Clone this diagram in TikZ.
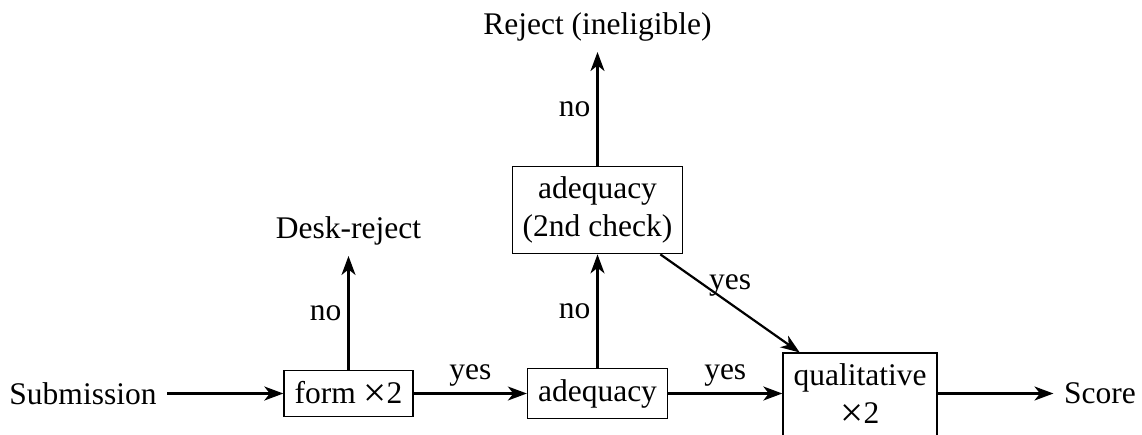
\documentclass[tikz,border=0pt]{standalone}
\usepackage{graphicx}
\usepackage{fontspec}
\setmainfont{Liberation Serif}
\usetikzlibrary{arrows.meta}
\newcommand\bigtimes{\raisebox{-3pt}{\scalebox{1.3}{×}}}
\tikzset{
  every node/.style={font=\fontsize{31.5}{37.8}\selectfont, inner sep=10.5pt},
  procbox/.style={draw, line width=1.4pt, align=center},
  txt/.style={align=center},
  flow/.style={-{Stealth[length=19pt,width=14pt,inset=5.5pt]}, line width=2.2pt},
  lbl/.style={inner sep=6pt}
}
\begin{document}
\begin{tikzpicture}[x=1pt,y=-1pt]
\useasboundingbox (0,0) rectangle (1142,434);
\node[txt] (sub) at (83,393.5) {Submission};
\node[procbox] (form) at (348.5,393.5) {form \bigtimes2};
\node[procbox] (adeq) at (597.5,393.5) {adequacy};
\node[procbox] (adeqb) at (597.5,210) {adequacy\\(2nd check)};
\node[procbox] (qual) at (860,395) {qualitative\\\bigtimes2};
\node[txt] (score) at (1100,393.5) {Score};
\node[txt] (desk) at (348.5,231) {Desk-reject};
\node[txt] (rej) at (597.5,27) {Reject (ineligible)};

\draw[flow] (sub) -- (form);
\draw[flow] (form) -- node[above,lbl] (y1) {yes} (adeq);
\draw[flow] (adeq) -- node[above,lbl] (y2) {yes} (qual.west |- adeq);
\draw[flow] (qual.east |- adeq) -- (score);
\draw[flow] (form.north) -- node[left,lbl] (n1) {no} (desk.south);
\draw[flow] (adeq.north) -- node[left,lbl] (n2) {no} (adeqb.south);
\draw[flow] (adeqb.north) -- node[left,lbl] (n3) {no} (rej.south);
\draw[flow] (adeqb) -- node[above,lbl] (y3) {yes} (qual);
\end{tikzpicture}
\end{document}
